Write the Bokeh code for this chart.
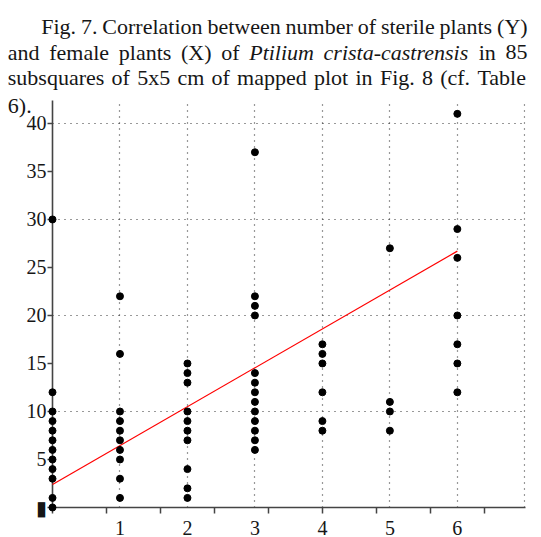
from bokeh.plotting import figure
from bokeh.models import FixedTicker, Range1d, ColumnDataSource
from bokeh.core.properties import value
from bokeh.embed import file_html
from bokeh.resources import INLINE

# ---- data ----
female_levels = [0, 1, 2, 3, 4, 5, 6]
sterile_f0 = [0, 1, 3, 4, 5, 6, 7, 8, 9, 10, 12, 30]
sterile_f1 = [1, 3, 5, 6, 7, 8, 9, 10, 16, 22]
sterile_f2 = [1, 2, 4, 7, 8, 9, 10, 13, 14, 15]
sterile_f3 = [6, 7, 8, 9, 10, 11, 12, 13, 14, 20, 21, 22, 37]
sterile_f4 = [8, 9, 12, 15, 16, 17]
sterile_f5 = [8, 10, 11, 27]
sterile_f6 = [12, 15, 17, 20, 26, 29, 41]
sterile_cols = [sterile_f0, sterile_f1, sterile_f2, sterile_f3,
                sterile_f4, sterile_f5, sterile_f6]

fit_x = [0, 6]
fit_y = [2.4, 26.7]

x_tick_values = [1, 2, 3, 4, 5, 6]
x_minor_ticks = [0, 0.8, 1.6, 2.4, 3.2, 4.0, 4.8, 5.6, 6.4]
x_grid_values = [1, 2, 3, 4, 5, 6, 7]
y_tick_values = [0, 5, 10, 15, 20, 25, 30, 35, 40]
y_grid_values = [10, 20, 30, 40]
y_label_overrides = {0: "\u25ae"}

title_lines = [
    ["Fig.", "7.", "Correlation", "between", "number", "of", "sterile", "plants", "(Y)"],
    ["and", "female", "plants", "(X)", "of", "Ptilium", "crista-castrensis", "in", "85"],
    ["subsquares", "of", "5x5", "cm", "of", "mapped", "plot", "in", "Fig.", "8", "(cf.", "Table"],
    ["6)."],
]
italic_words = {"Ptilium", "crista-castrensis"}

# ---- layout: page pixel positions of the justified caption words ----
word_page_x = [
    [40.7, 80.4, 101.8, 206.9, 285.1, 357.2, 380.4, 439.1, 496.6],
    [7.3, 48.7, 118.3, 180.5, 220.7, 248.7, 323.1, 478.2, 505.0],
    [7.3, 111.1, 136.7, 176.9, 211.1, 236.6, 313.5, 355.0, 379.4, 421.5, 439.7, 476.9],
    [7.3],
]
line_baseline_page_y = [26, 51.5, 77, 105]

W, H = 541, 537
FRAME_L, FRAME_R, FRAME_T, FRAME_B = 52, 525, 100, 508
X0, X1 = 0, 7.0
Y0 = 0
Y1 = (FRAME_B - FRAME_T) / ((FRAME_B - 123) / 40.0)
SERIF = "Liberation Serif"
INK = "#161616"

xs, ys = [], []
for fx, col in zip(female_levels, sterile_cols):
    for v in col:
        xs.append(fx)
        ys.append(v)

p = figure(width=W, height=H, output_backend="svg", toolbar_location=None,
           x_range=Range1d(X0, X1 + 0.01), y_range=Range1d(Y0, Y1),
           min_border_left=FRAME_L, min_border_right=W - FRAME_R,
           min_border_top=FRAME_T, min_border_bottom=H - FRAME_B)
p.outline_line_color = None
p.background_fill_color = "white"
p.border_fill_color = "white"

# grids
p.xgrid.ticker = FixedTicker(ticks=x_grid_values)
p.ygrid.ticker = FixedTicker(ticks=y_grid_values)
for g in (p.xgrid, p.ygrid):
    g.grid_line_color = "#333333"
    g.grid_line_dash = "1 5"
    g.grid_line_width = 1.2

# x axis
xa = p.xaxis[0]
xa.ticker = FixedTicker(ticks=x_tick_values, minor_ticks=x_minor_ticks)
xa.major_tick_out = 0
xa.major_tick_in = 0
xa.minor_tick_out = 6
xa.minor_tick_in = 0
xa.minor_tick_line_color = "#444444"
xa.minor_tick_line_width = 1.5
xa.axis_line_color = "#444444"
xa.axis_line_width = 1.6
xa.major_label_standoff = 7
xa.major_label_text_font = SERIF
xa.major_label_text_font_size = "20px"
xa.major_label_text_color = INK

# y axis
ya = p.yaxis[0]
ya.ticker = FixedTicker(ticks=y_tick_values)
ya.major_tick_out = 5
ya.major_tick_in = 0
ya.minor_tick_out = 0
ya.major_tick_line_color = "#444444"
ya.major_tick_line_width = 1.5
ya.axis_line_color = "#444444"
ya.axis_line_width = 1.6
ya.major_label_standoff = 1
ya.major_label_overrides = y_label_overrides
ya.major_label_text_font = SERIF
ya.major_label_text_font_size = "20px"
ya.major_label_text_color = INK

# regression line and points
p.line(fit_x, fit_y, line_color="red", line_width=1.2, level="overlay")
p.scatter(xs, ys, marker="circle", size=7, fill_color="black",
          line_color="black", level="overlay")

# caption (placed through the plot's own scales, drawn unclipped)
px_per_x = (FRAME_R - FRAME_L) / (X1 + 0.01 - X0)
px_per_y = (FRAME_B - FRAME_T) / (Y1 - Y0)
cap = {"normal": dict(x=[], y=[], t=[]), "italic": dict(x=[], y=[], t=[])}
for words, pxs, base in zip(title_lines, word_page_x, line_baseline_page_y):
    for w, px in zip(words, pxs):
        style = "italic" if w in italic_words else "normal"
        cap[style]["x"].append(X0 + (px - FRAME_L) / px_per_x)
        cap[style]["y"].append(Y0 + (FRAME_B - base) / px_per_y)
        cap[style]["t"].append(w)
for style, d in cap.items():
    p.text(x="x", y="y", text="t", source=ColumnDataSource(d),
           text_font=value(SERIF), text_font_size="22px",
           text_font_style=style, text_color=INK,
           text_baseline="alphabetic", text_align="left", level="overlay")

open("out.html", "w").write(file_html(p, INLINE))
